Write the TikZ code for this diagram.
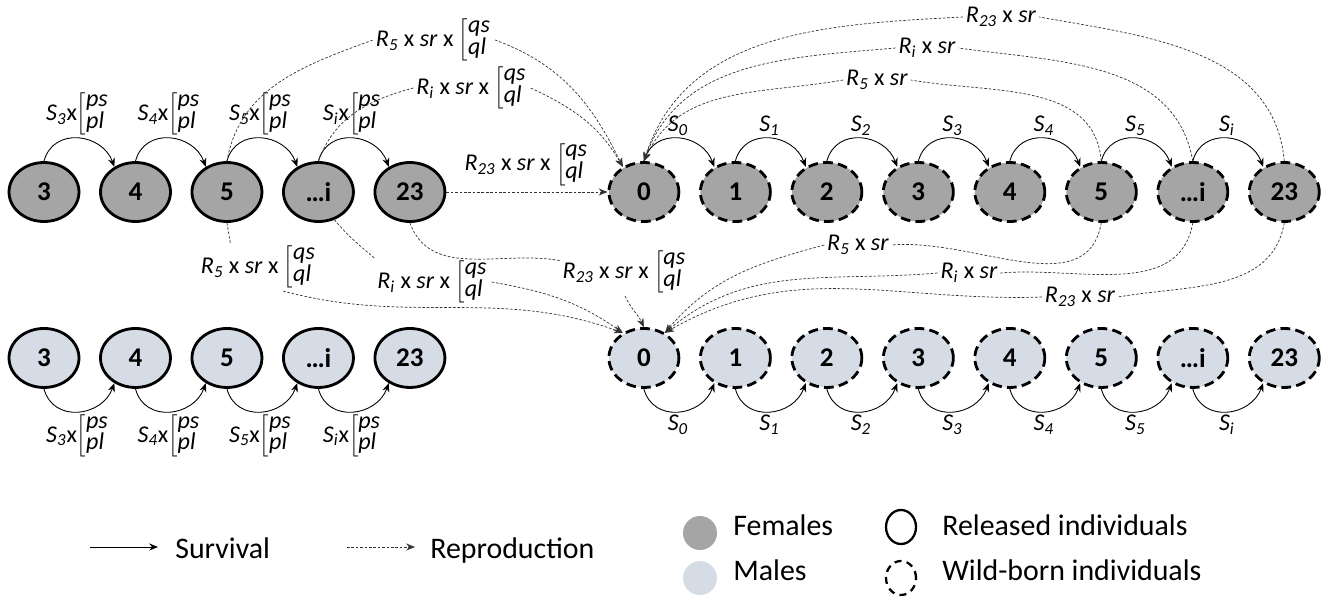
\documentclass[tikz,border=0pt]{standalone}
\usepackage{fontspec}
\setmainfont{Carlito}
\usetikzlibrary{shapes.geometric, positioning, arrows.meta}
\definecolor{femgrey}{HTML}{A5A5A5}
\definecolor{malblue}{HTML}{D6DCE5}
\newcommand{\idx}[2]{\textit{#1\textsubscript{#2}}}
\newcommand{\stk}[2]{$\left[\vcenter{\hbox{\renewcommand{\arraystretch}{0.62}\begin{tabular}{@{}l@{}}\textit{#1}\\\textit{#2}\end{tabular}}}\right.$}

\begin{document}
\begin{tikzpicture}[x=0.02cm, y=0.02cm, node distance=1.83cm, on grid,
    >={Stealth[length=5pt, width=4pt]},
    stage/.style={ellipse, draw, line width=1.6pt, minimum width=1.4cm, minimum height=1.18cm,
        inner sep=0pt, font=\fontsize{15.4}{16}\selectfont\bfseries},
    released/.style={stage},
    wild/.style={stage, dash pattern=on 5.5pt off 3pt},
    fem/.style={fill=femgrey},
    mal/.style={fill=malblue},
    lab/.style={font=\fontsize{13.7}{15}\selectfont, inner sep=1.5pt, text=black},
    keytxt/.style={font=\fontsize{17}{18}\selectfont, inner sep=0pt},
    surv/.style={->, line width=0.5pt},
    repro/.style={line width=0.4pt, dash pattern=on 1.5pt off 1pt, black!80}]
    \useasboundingbox (0,0) rectangle (1328,-596);

    % released females
    \node[released, fem] (f3) at (44,-192) {3};
    \node[released, fem] (f4) [right=of f3] {4};
    \node[released, fem] (f5) [right=of f4] {5};
    \node[released, fem] (fi) [right=of f5] {…i};
    \node[released, fem] (f23) [right=of fi] {23};
    % released males
    \node[released, mal] (m3) [below=3.32cm of f3] {3};
    \node[released, mal] (m4) [right=of m3] {4};
    \node[released, mal] (m5) [right=of m4] {5};
    \node[released, mal] (mi) [right=of m5] {…i};
    \node[released, mal] (m23) [right=of mi] {23};
    % wild-born females
    \node[wild, fem] (fw0) [right=4.68cm of f23] {0};
    \node[wild, fem] (fw1) [right=of fw0] {1};
    \node[wild, fem] (fw2) [right=of fw1] {2};
    \node[wild, fem] (fw3) [right=of fw2] {3};
    \node[wild, fem] (fw4) [right=of fw3] {4};
    \node[wild, fem] (fw5) [right=of fw4] {5};
    \node[wild, fem] (fwi) [right=of fw5] {…i};
    \node[wild, fem] (fw23) [right=of fwi] {23};
    % wild-born males
    \node[wild, mal] (mw0) [below=3.32cm of fw0] {0};
    \node[wild, mal] (mw1) [right=of mw0] {1};
    \node[wild, mal] (mw2) [right=of mw1] {2};
    \node[wild, mal] (mw3) [right=of mw2] {3};
    \node[wild, mal] (mw4) [right=of mw3] {4};
    \node[wild, mal] (mw5) [right=of mw4] {5};
    \node[wild, mal] (mwi) [right=of mw5] {…i};
    \node[wild, mal] (mw23) [right=of mwi] {23};

    % reproduction labels
    \node[lab] (tl5) at (434,-40) {\idx{R}{5} x \textit{sr} x \stk{qs}{ql}};
    \node[lab] (tli) at (472,-88) {\idx{R}{i} x \textit{sr} x \stk{qs}{ql}};
    \node[lab] (tr5) at (877,-80) {\idx{R}{5} x \textit{sr}};
    \node[lab] (tri) at (927,-48) {\idx{R}{i} x \textit{sr}};
    \node[lab] (tr23) at (1001,-17) {\idx{R}{23} x \textit{sr}};
    \node[lab] (bl5) at (259,-267) {\idx{R}{5} x \textit{sr} x \stk{qs}{ql}};
    \node[lab] (bli) at (433,-282) {\idx{R}{i} x \textit{sr} x \stk{qs}{ql}};
    \node[lab] (bl23) at (625,-272) {\idx{R}{23} x \textit{sr} x \stk{qs}{ql}};
    \node[lab] (br5) at (858,-245) {\idx{R}{5} x \textit{sr}};
    \node[lab] (bri) at (969,-273) {\idx{R}{i} x \textit{sr}};
    \node[lab] (br23) at (1080,-297) {\idx{R}{23} x \textit{sr}};

    % survival
    \path[surv]
        (f3.north) edge[out=75, in=110, looseness=1.3] node[lab, above] {\idx{S}{3}x\stk{ps}{pl}} (f4.130)
        (f4.north) edge[out=75, in=110, looseness=1.3] node[lab, above] {\idx{S}{4}x\stk{ps}{pl}} (f5.130)
        (f5.north) edge[out=75, in=110, looseness=1.3] node[lab, above] {\idx{S}{5}x\stk{ps}{pl}} (fi.130)
        (fi.north) edge[out=75, in=110, looseness=1.3] node[lab, above] {\idx{S}{i}x\stk{ps}{pl}} (f23.130)
        (m3.south) edge[out=-75, in=-110, looseness=1.3] node[lab, below] {\idx{S}{3}x\stk{ps}{pl}} (m4.-130)
        (m4.south) edge[out=-75, in=-110, looseness=1.3] node[lab, below] {\idx{S}{4}x\stk{ps}{pl}} (m5.-130)
        (m5.south) edge[out=-75, in=-110, looseness=1.3] node[lab, below] {\idx{S}{5}x\stk{ps}{pl}} (mi.-130)
        (mi.south) edge[out=-75, in=-110, looseness=1.3] node[lab, below] {\idx{S}{i}x\stk{ps}{pl}} (m23.-130);
    \foreach \a/\b/\s in {0/1/0, 1/2/1, 2/3/2, 3/4/3, 4/5/4, 5/i/5, i/23/i} {
        \path[surv]
            (fw\a.north) edge[out=75, in=110, looseness=1.3] node[lab, above] {\idx{S}{\s}} (fw\b.130)
            (mw\a.south) edge[out=-75, in=-110, looseness=1.3] node[lab, below] {\idx{S}{\s}} (mw\b.-130);
    }

    % reproduction, released females -> wild females
    \path[repro]
        (f5.north) edge[out=80, in=200] (tl5.west)
        (fi.north) edge[out=70, in=195] (tli.west);
    \path[repro, ->]
        (tl5.east) edge[out=-20, in=116] (fw0.130)
        (tli.east) edge[out=-25, in=120] (fw0.130)
        (f23) edge node[lab, above=2pt] {\idx{R}{23} x \textit{sr} x \stk{qs}{ql}} (fw0);
    % wild females -> wild females
    \path[repro]
        (fw5.north) edge[out=95, in=-10] (tr5.east)
        (fwi.north) edge[out=100, in=-8] (tri.east)
        (fw23.north) edge[out=95, in=-10] (tr23.east);
    \path[repro, ->]
        (tr5.west) edge[out=190, in=65] (fw0.north)
        (tri.west) edge[out=185, in=70] (fw0.north)
        (tr23.west) edge[out=183, in=72] (fw0.north);
    % released females -> wild males
    \path[repro]
        (f5.south) edge[out=-80, in=100] (bl5.140)
        (fi.-60) edge[out=-50, in=140] (bli.north west)
        (f23.south) edge[out=-70, in=170] (bl23.170);
    \path[repro, ->]
        (bl5.-45) edge[out=-15, in=160] (mw0.130)
        (bli.east) edge[out=-10, in=145] (mw0.130)
        (bl23.south) edge[out=-65, in=115] (mw0.north);
    % wild females -> wild males
    \path[repro]
        (fw5.south) edge[out=-100, in=5] (br5.east)
        (fwi.south) edge[out=-100, in=5] (bri.east)
        (fw23.south) edge[out=-100, in=10] (br23.east);
    \path[repro, ->]
        (br5.west) edge[out=195, in=50] (mw0.50)
        (bri.west) edge[out=185, in=40] (mw0.50)
        (br23.west) edge[out=182, in=30] (mw0.50);

    % key
    \coordinate (ks0) at (90,-547);
    \coordinate (ks1) at (158,-547);
    \coordinate (kr0) at (347,-547);
    \coordinate (kr1) at (415,-547);
    \draw[surv] (ks0) -- (ks1);
    \draw[repro, ->] (kr0) -- (kr1);
    \node[keytxt, anchor=base west] (ksurv) at (175,-558) {Survival};
    \node[keytxt, anchor=base west] (krepro) at (430,-558) {Reproduction};
    \node[circle, fill=femgrey, minimum size=0.68cm] (kfem) at (700,-533) {};
    \node[circle, fill=malblue, minimum size=0.68cm] (kmal) at (700,-578) {};
    \node[keytxt, anchor=base west] (kfemt) at (733,-535) {Females};
    \node[keytxt, anchor=base west] (kmalt) at (733,-580) {Males};
    \node[ellipse, draw, line width=1.3pt, minimum width=0.6cm, minimum height=0.68cm] (krel) at (901,-527) {};
    \node[ellipse, draw, line width=1.3pt, dash pattern=on 4pt off 3pt, minimum width=0.6cm, minimum height=0.68cm] (kwild) at (901,-578) {};
    \node[keytxt, anchor=base west] (krelt) at (942,-535) {Released individuals};
    \node[keytxt, anchor=base west] (kwildt) at (942,-580) {Wild-born individuals};
\end{tikzpicture}
\end{document}
